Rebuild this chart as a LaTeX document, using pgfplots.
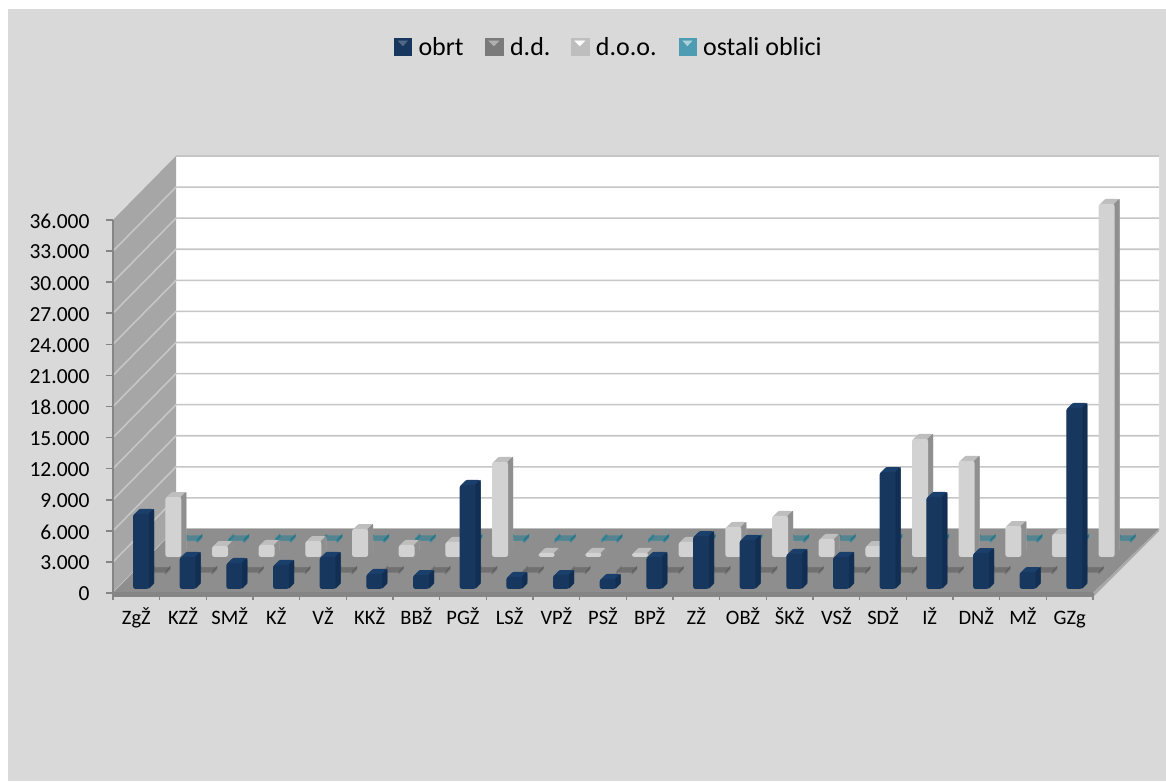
\documentclass[border=0pt]{standalone}
\usepackage{pgfplots}
\usepackage{pgfplotstable}
\usepackage{fontspec}
\setmainfont{Carlito}
\pgfplotsset{compat=1.18}
\definecolor{panel}{HTML}{D9D9D9}
\definecolor{gridc}{HTML}{C6C6C6}
\definecolor{wallc}{HTML}{A6A6A6}
\definecolor{floorc}{HTML}{8E8E8E}
\definecolor{axc}{HTML}{858585}
\definecolor{obF}{HTML}{17375E}
\definecolor{obT}{HTML}{1B3F6B}
\definecolor{obS}{HTML}{122E52}
\definecolor{ddF}{HTML}{7A7A7A}
\definecolor{ddT}{HTML}{6A6A6A}
\definecolor{ddS}{HTML}{555555}
\definecolor{doF}{HTML}{D2D2D2}
\definecolor{doT}{HTML}{BEBEBE}
\definecolor{doS}{HTML}{8F8F8F}
\definecolor{osF}{HTML}{2F8BA3}
\definecolor{osT}{HTML}{2A7F93}
\definecolor{osS}{HTML}{1F6474}
\pgfplotstableread{
i  obrt  dd  doo   ost
0  7240  60  5790  40
1  3090  60  1060  40
2  2510  60  1160  40
3  2320  60  1540  40
4  3090  60  2700  40
5  1450  60  1160  40
6  1350  60  1450  40
7  10040 60  9170  40
8  1160  60  390   40
9  1350  60  390   40
10 965   60  390   40
11 3090  60  1450  40
12 5100  60  2900  40
13 4730  60  3960  40
14 3380  60  1740  40
15 3090  60  1060  40
16 11290 60  11390 40
17 8880  60  9270  40
18 3470  60  2990  40
19 1640  60  2220  40
20 17470 60  34070 40
}\datatable
\pgfplotsset{
  rowaxis/.style={
    scale only axis, width=980pt, height=373pt, hide axis, clip=false,
    xmin=-0.5, xmax=20.5, ymin=0, ymax=36000, ybar=0pt, bar width=16pt}
}
\newcommand\rowbars[4]{%
  \pgfplotsinvokeforeach{5,4.5,4,3.5,3,2.5,2,1.5,1,0.5}{%
    \addplot[ybar, bar shift=0pt, draw=none, fill=#2, rounded corners=2.5pt, xshift=##1pt, yshift=##1pt] table[x=i,y=#1]{\datatable};
  }%
  \pgfplotsinvokeforeach{5,4.5,4,3.5,3,2.5,2,1.5,1,0.5}{%
    \addplot[ybar, bar width=1pt, bar shift=7.5pt, draw=none, fill=#3, rounded corners=0.4pt, xshift=##1pt, yshift=##1pt] table[x=i,y=#1]{\datatable};
  }%
  \addplot[ybar, bar shift=0pt, draw=none, #4, rounded corners=2.5pt] table[x=i,y=#1]{\datatable};
}
\begin{document}
\begin{tikzpicture}
\begin{scope}[x=1pt,y=-1pt,yshift=781pt]
  \useasboundingbox (0,0) rectangle (1166,781);
  \fill[white] (0,0) rectangle (1166,781);
  \fill[panel] (8,9) rectangle (1166,781);
  % back wall
  \fill[white] (176,156) rectangle (1159,529);
  \draw[gridc,line width=2pt] (176,156) -- (1159,156);
  \draw[gridc!60,line width=1pt] (1159,156) -- (1159,529);
  % left wall
  \fill[wallc] (113,220) -- (176,156) -- (176,529) -- (113,593) -- cycle;
  \foreach \k in {0,...,11}{
    \draw[gridc,line width=1.6pt] (113,{593-31.08*\k}) -- (176,{529-31.08*\k}) -- (1159,{529-31.08*\k});
  }
  % floor
  \fill[floorc] (113,593) -- (1093,593) -- (1159,529) -- (176,529) -- cycle;
  \fill[axc] (113,593) rectangle (1093,597);
  \fill[gridc!85!black] (1093,597) -- (1159,531) -- (1159,529) -- (1093,593) -- cycle;
\end{scope}
% base axis: ticks, labels and legend
\begin{axis}[
  at={(113pt,188pt)}, anchor=south west,
  scale only axis, width=980pt, height=373pt,
  xmin=-0.5, xmax=20.5, ymin=0, ymax=36000,
  axis x line*=bottom, axis y line*=left,
  axis line style={draw=axc, line width=1.6pt, -},
  tick style={draw=axc, line width=1.6pt},
  major tick length=7pt, tick align=outside,
  xtick={-0.5,0.5,...,20.5},
  x tick label as interval,
  xticklabels={ZgŽ,KZŽ,SMŽ,KŽ,VŽ,KKŽ,BBŽ,PGŽ,LSŽ,VPŽ,PSŽ,BPŽ,ZŽ,OBŽ,ŠKŽ,VSŽ,SDŽ,IŽ,DNŽ,MŽ,GZg},
  xticklabel style={font=\fontsize{20.5}{22}\selectfont, yshift=-6pt, inner xsep=0pt, text height=15pt, text depth=4pt},
  ytick={0,3000,...,36000},
  scaled y ticks=false,
  yticklabel style={font=\fontsize{21.5}{24}\selectfont, xshift=-13pt, yshift=-1pt},
  /pgf/number format/.cd, assume math mode=true, fixed, 1000 sep={.}, min exponent for 1000 sep=3,
  /pgfplots/.cd,
  legend columns=-1,
  legend style={at={(0.506,1.464)}, anchor=center, draw=none, fill=none,
    font=\fontsize{26}{28}\selectfont, inner sep=0pt, outer sep=0pt,
    /tikz/column 1/.style={column sep=5pt},
    /tikz/column 2/.style={column sep=19pt},
    /tikz/column 3/.style={column sep=5pt},
    /tikz/column 4/.style={column sep=18pt},
    /tikz/column 5/.style={column sep=5pt},
    /tikz/column 6/.style={column sep=20pt},
    /tikz/column 7/.style={column sep=5pt}},
]
\addlegendimage{legend image code/.code={\fill[obF] (0pt,-8.5pt) rectangle (17pt,8.5pt); \fill[obF!75!white] (4pt,6pt) -- (13pt,6pt) -- (8.5pt,1pt) -- cycle;}}
\addlegendentry{obrt}
\addlegendimage{legend image code/.code={\fill[ddF] (0pt,-8.5pt) rectangle (18pt,8.5pt); \fill[ddF!60!white] (4pt,6pt) -- (14pt,6pt) -- (9pt,1pt) -- cycle;}}
\addlegendentry{d.d.}
\addlegendimage{legend image code/.code={\fill[doT] (0pt,-8.5pt) rectangle (18pt,8.5pt); \fill[white] (4pt,6pt) -- (14pt,6pt) -- (9pt,1pt) -- cycle;}}
\addlegendentry{d.o.o.}
\addlegendimage{legend image code/.code={\fill[osF!85!white] (0pt,-8.5pt) rectangle (17pt,8.5pt); \fill[osF!40!white] (4pt,6pt) -- (13pt,6pt) -- (8.5pt,1pt) -- cycle;}}
\addlegendentry{ostali oblici}
\end{axis}
% rows, from back to front
\begin{axis}[rowaxis, at={(166pt,240pt)}, anchor=south west]
\rowbars{ost}{osT}{osS}{fill=osF}
\end{axis}
\begin{axis}[rowaxis, at={(150pt,224pt)}, anchor=south west]
\rowbars{doo}{doT}{doS}{fill=doF}
\end{axis}
\begin{axis}[rowaxis, at={(134pt,208pt)}, anchor=south west]
\rowbars{dd}{ddT}{ddS}{fill=ddF}
\end{axis}
\begin{axis}[rowaxis, at={(117.7pt,192pt)}, anchor=south west]
\rowbars{obrt}{obT}{obS}{fill=obF}
\end{axis}
\end{tikzpicture}
\end{document}
